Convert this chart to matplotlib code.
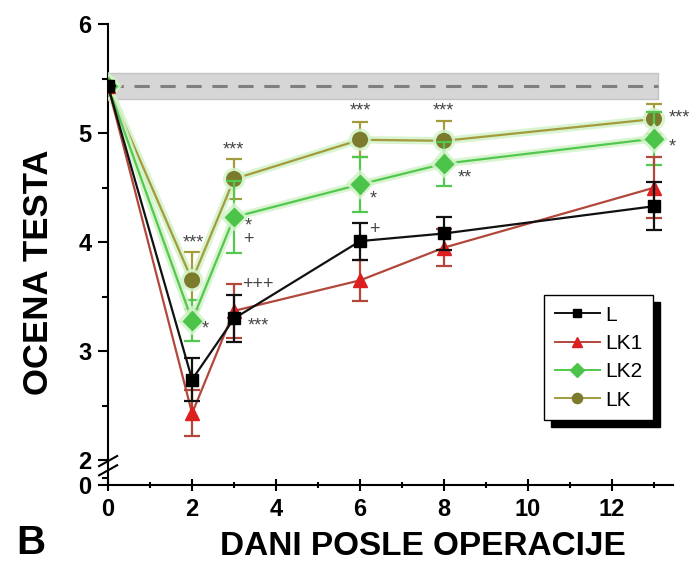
import numpy as np
import matplotlib
matplotlib.use("Agg")
import matplotlib.pyplot as plt
import matplotlib.patheffects as pe

plt.rcParams['font.family'] = ['Liberation Sans', 'DejaVu Sans']

# days after surgery
days = [0, 2, 3, 6, 8, 13]

# test scores (mean) and error (SEM)
L_mean = [5.43, 2.74, 3.30, 4.01, 4.08, 4.33]
L_err = [0.0, 0.20, 0.22, 0.17, 0.15, 0.22]
LK1_mean = [5.43, 2.43, 3.37, 3.65, 3.95, 4.50]
LK1_err = [0.0, 0.21, 0.25, 0.19, 0.17, 0.28]
LK2_mean = [5.43, 3.28, 4.23, 4.53, 4.72, 4.95]
LK2_err = [0.0, 0.19, 0.33, 0.25, 0.20, 0.24]
LK_mean = [5.43, 3.65, 4.58, 4.94, 4.93, 5.13]
LK_err = [0.0, 0.26, 0.18, 0.16, 0.18, 0.14]

# healthy control band
ctrl_mean = 5.43
ctrl_sd = 0.12
ctrl_x = [0, 13.1]

# significance marks
annots = [
    (2.02, 3.99, '***'), (2.31, 3.20, '*'),
    (2.98, 4.85, '***'), (3.33, 4.09, '*\n+'),
    (3.57, 3.61, '+++'), (3.57, 3.23, '***'),
    (6.0, 5.20, '***'), (6.31, 4.40, '*'), (6.33, 4.12, '+'),
    (7.98, 5.20, '***'), (8.5, 4.59, '**'),
    (13.35, 5.14, '***'), (13.43, 4.87, '*'),
]

# broken y axis: values below 2 are squeezed
K = 0.114


def fwd(y):
    y = np.asarray(y, dtype=float)
    return np.where(y >= 2, y, 2 - (2 - y) * K)


def inv(y):
    y = np.asarray(y, dtype=float)
    return np.where(y >= 2, y, 2 - (2 - y) / K)


fig = plt.figure(figsize=(6.93, 5.63), dpi=100)
ax = fig.add_axes([0.156, 0.1385, 0.815, 0.8185])
ax.set_yscale('function', functions=(fwd, inv))

ax.fill_between(ctrl_x, ctrl_mean - ctrl_sd, ctrl_mean + ctrl_sd,
                color='#d6d6d6', edgecolor='#c4c4c4', lw=1, zorder=1)
ax.plot(ctrl_x, [ctrl_mean, ctrl_mean], color='#7f7f7f', lw=2.2,
        dashes=(5, 3.5), zorder=2)

series = [
    ('LK', LK_mean, LK_err, '#a39b3c', '#7c7a2c', 'o', 10.5),
    ('LK2', LK2_mean, LK2_err, '#52c84e', '#4cc44a', 'D', 9.5),
    ('LK1', LK1_mean, LK1_err, '#b2473c', '#dd1f1f', '^', 10.5),
    ('L', L_mean, L_err, '#111111', '#000000', 's', 8.5),
]
handles = {}
for i, (name, m, e, lc, mc, mk, ms) in enumerate(series):
    glow = []
    if name in ('LK2', 'LK'):
        glow = [pe.Stroke(linewidth=5.5, foreground='#d2f3c8', alpha=0.85), pe.Normal()]
    cont = ax.errorbar(days, m, yerr=e, color=lc, lw=1.6, marker=mk,
                       ms=ms, mfc=mc, mec=mc, ecolor=lc, elinewidth=1.6,
                       capsize=5.5, capthick=1.6, zorder=3 + i)
    cont[0].set_path_effects(glow)
    h, = ax.plot([], [], color=lc, lw=1.4, marker=mk, ms=ms * 0.7,
                 mfc=mc, mec=mc)
    handles[name] = h

for x, y, t in annots:
    ax.text(x, y, t, fontsize=13, color='#454545', linespacing=0.75,
            ha='left' if x > 13.3 and '*' in t and len(t) == 3 else 'center',
            va='center', clip_on=False, zorder=10)

ax.set_xlim(0, 13.45)
ax.set_ylim(0, 6)
ax.set_xticks([0, 2, 4, 6, 8, 10, 12])
ax.set_xticks([1, 3, 5, 7, 9, 11, 13], minor=True)
ax.set_yticks([0, 2, 3, 4, 5, 6])
ax.set_yticks([0.6, 2.5, 3.5, 4.5, 5.5], minor=True)
ax.tick_params(which='major', length=7, width=1.5, labelsize=17, pad=5)
ax.tick_params(which='minor', length=4, width=1.5)
ax.tick_params(axis='x', which='both', direction='inout', length=9)
ax.tick_params(axis='x', which='minor', length=5)
for lab in ax.get_xticklabels() + ax.get_yticklabels():
    lab.set_fontweight('bold')

for s in ('top', 'right'):
    ax.spines[s].set_visible(False)
for s in ('left', 'bottom'):
    ax.spines[s].set_linewidth(1.5)

# break marks on the y axis (axes fraction)
for yb in (0.052, 0.032):
    ax.plot([-0.016, 0.016], [yb - 0.011, yb + 0.011], color='black', lw=1.5,
            transform=ax.transAxes, clip_on=False)

ax.set_ylabel('OCENA TESTA', fontsize=25, fontweight='bold')
ax.yaxis.set_label_coords(-0.094, 0.462)
ax.set_xlabel('DANI POSLE OPERACIJE', fontsize=24, fontweight='bold')
ax.xaxis.set_label_coords(0.558, -0.1)
fig.text(0.024, 0.002, 'B', fontsize=29, fontweight='bold', va='bottom')

leg = ax.legend([handles[n] for n in ('L', 'LK1', 'LK2', 'LK')],
                ['L', 'LK1', 'LK2', 'LK'], loc='upper left',
                bbox_to_anchor=(0.772, 0.412), borderaxespad=0,
                fontsize=15, frameon=True,
                fancybox=False, edgecolor='black', handlelength=2.2,
                handletextpad=0.25, borderpad=0.5, labelspacing=0.45,
                shadow={'ox': 5, 'oy': -5, 'facecolor': 'black',
                        'edgecolor': 'black', 'alpha': 1})
leg.get_frame().set_linewidth(1.0)

fig.savefig('out.png', dpi=100)
